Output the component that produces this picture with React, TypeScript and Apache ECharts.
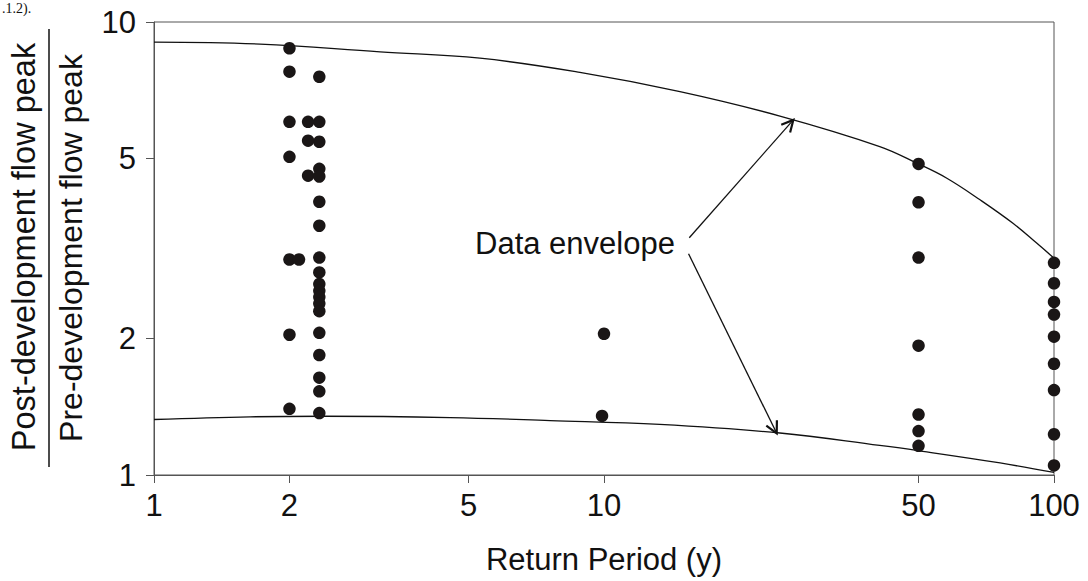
import React, { useEffect, useRef } from "react";
import * as echarts from "echarts";

// Axis tick values (data space)
const xTickValues = [1, 2, 5, 10, 50, 100];
const yTickValues = [1, 2, 5, 10];

// Observations: return period (y) and ratio post/pre peak flow, grouped by column
const colPeriods = [2, 2.1, 2.2, 2.33, 10, 9.9, 50, 100];
const colRatios: number[][] = [
  [8.75, 7.77, 6.02, 5.04, 2.99, 2.04, 1.4],
  [2.99],
  [6.02, 5.47, 4.58],
  [7.57, 6.02, 5.44, 4.74, 4.56, 4.01, 3.55, 3.02, 2.8, 2.64, 2.55, 2.47, 2.39, 2.3, 2.06, 1.84, 1.64, 1.53, 1.37],
  [2.05],
  [1.35],
  [4.86, 4.0, 3.02, 1.93, 1.36, 1.25, 1.16],
  [2.94, 2.65, 2.41, 2.26, 2.02, 1.76, 1.54, 1.23, 1.05],
];

// Data envelope curves
const upperEnvX = [1, 1.72, 3.18, 5.3, 8.84, 14.75, 24.6, 41, 50, 57.8, 68.5, 81.2, 91.5, 100];
const upperEnvY = [9.03, 8.94, 8.59, 8.32, 7.74, 7.02, 6.2, 5.31, 4.86, 4.52, 4.05, 3.59, 3.25, 3.01];
const lowerEnvX = [1, 1.635, 2.375, 4.55, 7.59, 13.3, 24.6, 41, 49.5, 75.9, 100];
const lowerEnvY = [1.326, 1.344, 1.348, 1.339, 1.319, 1.293, 1.238, 1.162, 1.133, 1.063, 1.013];

// Annotation arrows: [fromX, fromY, toX, toY] in data space
const arrowFromX = [15.47, 15.41];
const arrowFromY = [3.34, 3.08];
const arrowToX = [26.35, 24.2];
const arrowToY = [6.08, 1.236];

const annotationText = "Data envelope";
const xTitle = "Return Period (y)";
const yTitleTop = "Post-development flow peak";
const yTitleBottom = "Pre-development flow peak";

const FONT = "'Liberation Sans', Arial, Helvetica, sans-serif";
const lg = (v: number) => Math.log10(v);

export default function App() {
  const ref = useRef<HTMLDivElement>(null);

  useEffect(() => {
    if (!ref.current) return;
    const chart = echarts.init(ref.current, null, { renderer: "svg" });

    const scatterData: number[][] = [];
    colPeriods.forEach((p, i) => {
      colRatios[i].forEach((r) => scatterData.push([lg(p), lg(r)]));
    });
    const upper = upperEnvX.map((x, i) => [lg(x), lg(upperEnvY[i])]);
    const lower = lowerEnvX.map((x, i) => [lg(x), lg(lowerEnvY[i])]);
    const arrows = arrowFromX.map((x, i) => [lg(x), lg(arrowFromY[i]), lg(arrowToX[i]), lg(arrowToY[i])]);

    const fmt = (v: number) => String(Math.round(Math.pow(10, v)));
    const axisColor = "#555";

    chart.setOption({
      animation: false,
      backgroundColor: "#fff",
      grid: {
        left: 154,
        right: 34,
        top: 22,
        bottom: 106,
        show: true,
        borderColor: axisColor,
        borderWidth: 1,
        backgroundColor: "transparent",
      },
      xAxis: {
        type: "value",
        min: 0,
        max: 2,
        splitLine: { show: false },
        axisLine: { show: true, lineStyle: { color: axisColor, width: 1 } },
        axisTick: { show: true, length: 8, customValues: xTickValues.map(lg), lineStyle: { color: axisColor } },
        axisLabel: {
          customValues: xTickValues.map(lg),
          formatter: fmt,
          fontSize: 31,
          fontFamily: FONT,
          color: "#111",
          margin: 15,
        },
      },
      yAxis: {
        type: "value",
        min: 0,
        max: 1,
        splitLine: { show: false },
        axisLine: { show: true, lineStyle: { color: axisColor, width: 1 } },
        axisTick: { show: true, length: 8, customValues: yTickValues.map(lg), lineStyle: { color: axisColor } },
        axisLabel: {
          customValues: yTickValues.map(lg),
          formatter: fmt,
          fontSize: 31,
          fontFamily: FONT,
          color: "#111",
          margin: 18,
        },
      },
      series: [
        {
          type: "line",
          data: upper,
          smooth: 0.4,
          symbol: "none",
          lineStyle: { color: "#111", width: 1.3 },
          z: 2,
        },
        {
          type: "line",
          data: lower,
          smooth: 0.4,
          symbol: "none",
          lineStyle: { color: "#111", width: 1.3 },
          z: 2,
        },
        {
          type: "scatter",
          data: scatterData,
          symbol: "circle",
          symbolSize: 12.5,
          itemStyle: { color: "#1a1616", opacity: 1 },
          z: 4,
        },
        {
          type: "custom",
          data: arrows,
          z: 3,
          clip: false,
          renderItem: (_params: any, api: any) => {
            const p1 = api.coord([api.value(0), api.value(1)]);
            const p2 = api.coord([api.value(2), api.value(3)]);
            const ang = Math.atan2(p1[1] - p2[1], p1[0] - p2[0]);
            const L = 13;
            const h = (27 * Math.PI) / 180;
            const a1 = [p2[0] + L * Math.cos(ang + h), p2[1] + L * Math.sin(ang + h)];
            const a2 = [p2[0] + L * Math.cos(ang - h), p2[1] + L * Math.sin(ang - h)];
            return {
              type: "group",
              children: [
                {
                  type: "line",
                  shape: { x1: p1[0], y1: p1[1], x2: p2[0], y2: p2[1] },
                  style: { stroke: "#111", lineWidth: 1.3 },
                },
                {
                  type: "polyline",
                  shape: { points: [a1, p2, a2] },
                  style: { stroke: "#111", fill: "none", lineWidth: 2.2 },
                },
              ],
            };
          },
        },
      ],
      graphic: [
        {
          type: "text",
          x: 475,
          y: 243,
          style: {
            text: annotationText,
            fontSize: 31,
            fontFamily: FONT,
            fill: "#111",
            align: "left",
            verticalAlign: "middle",
            textAlign: "left",
            textVerticalAlign: "middle",
          },
        },
        {
          type: "text",
          x: 604,
          y: 559,
          style: {
            text: xTitle,
            fontSize: 31,
            fontFamily: FONT,
            fill: "#111",
            align: "center",
            verticalAlign: "middle",
            textAlign: "center",
            textVerticalAlign: "middle",
          },
        },
        {
          type: "text",
          x: 24,
          y: 247,
          rotation: Math.PI / 2,
          style: {
            text: yTitleTop,
            fontSize: 32.5,
            fontFamily: FONT,
            fill: "#111",
            align: "center",
            verticalAlign: "middle",
            textAlign: "center",
            textVerticalAlign: "middle",
          },
        },
        {
          type: "text",
          x: 71,
          y: 248,
          rotation: Math.PI / 2,
          style: {
            text: yTitleBottom,
            fontSize: 32,
            fontFamily: FONT,
            fill: "#111",
            align: "center",
            verticalAlign: "middle",
            textAlign: "center",
            textVerticalAlign: "middle",
          },
        },
        {
          type: "line",
          shape: { x1: 49, y1: 29, x2: 49, y2: 467 },
          style: { stroke: "#111", lineWidth: 1.5 },
        },
        {
          type: "text",
          x: 2,
          y: 1,
          style: {
            text: ".1.2).",
            fontSize: 14,
            fontFamily: "'Liberation Serif', 'Times New Roman', serif",
            fill: "#111",
            align: "left",
            verticalAlign: "top",
            textAlign: "left",
            textVerticalAlign: "top",
          },
        },
      ],
    });

    return () => chart.dispose();
  }, []);

  return (
    <div
      ref={ref}
      style={{ position: "fixed", left: 0, top: 0, width: 1088, height: 581, background: "#fff" }}
    />
  );
}
